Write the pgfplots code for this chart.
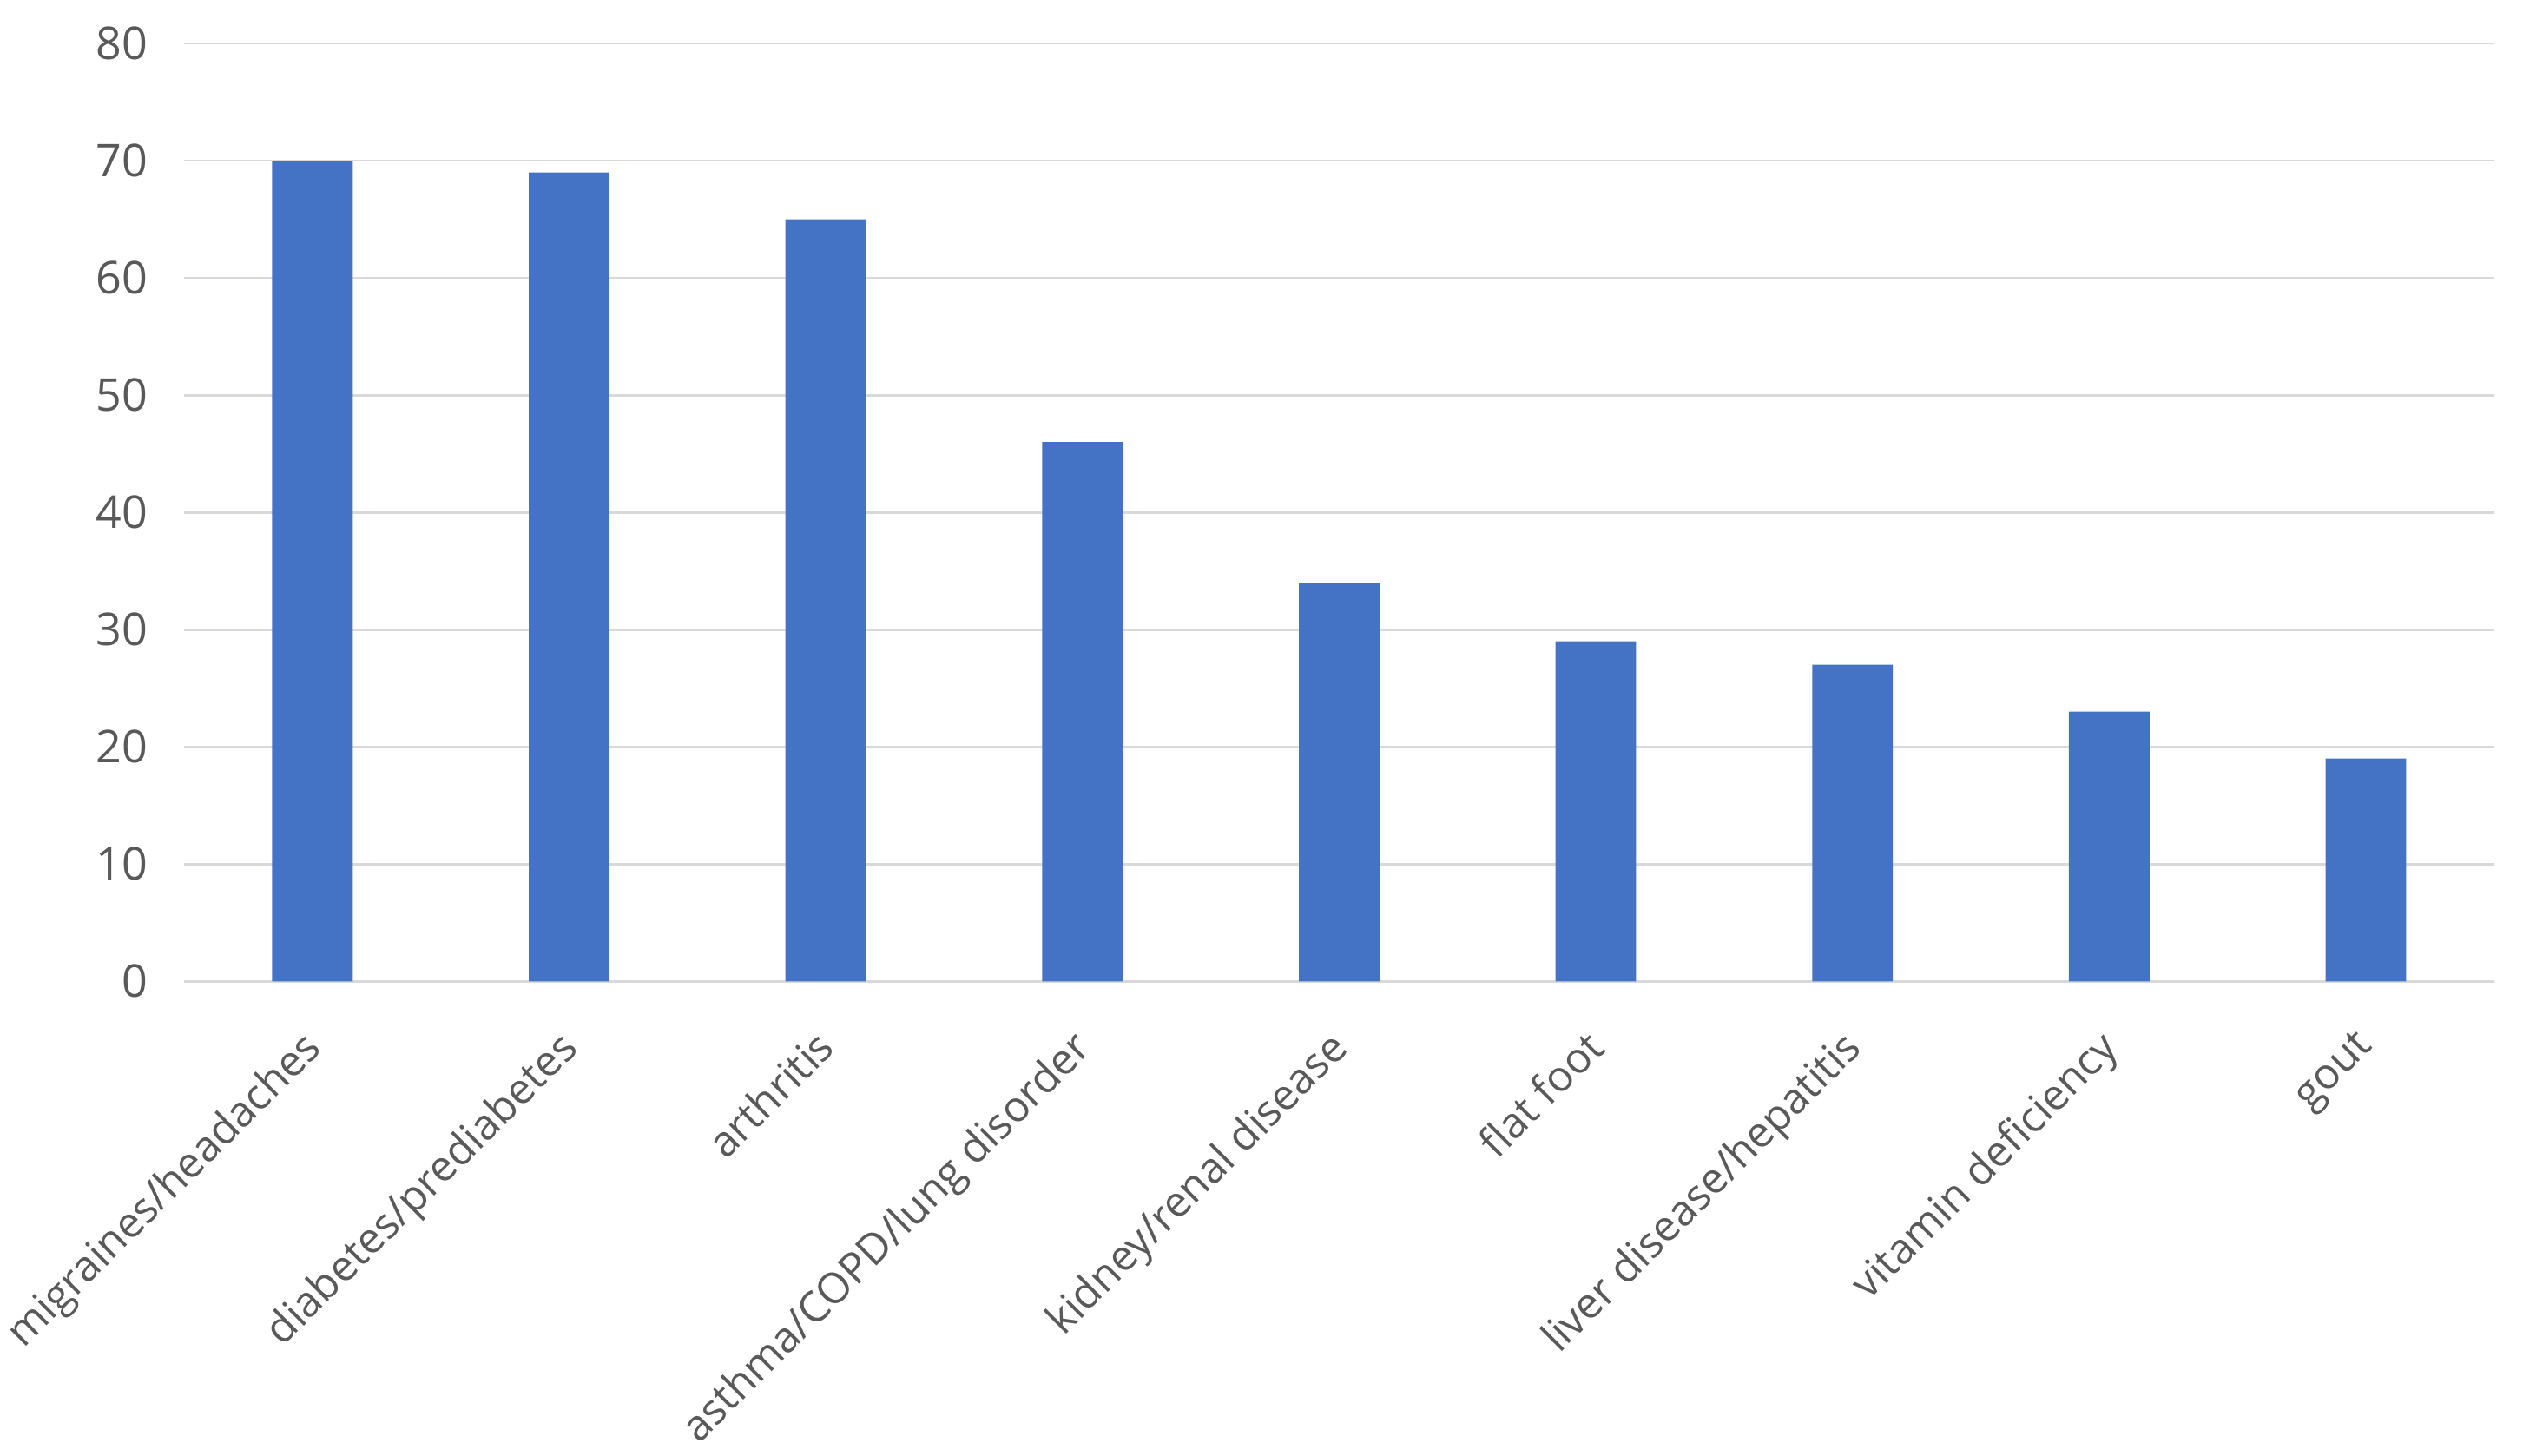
\documentclass[border=0pt]{standalone}
\usepackage{pgfplots}
\pgfplotsset{compat=1.18}
\usepackage{fontspec}
\setmainfont{Open Sans}
\definecolor{barblue}{HTML}{4472C4}
\definecolor{gridgray}{HTML}{D9D9D9}
\definecolor{labelgray}{HTML}{595959}

\begin{document}
\begin{tikzpicture}
\begin{axis}[
    scale only axis,
    width=665pt, height=270pt,
    ybar, bar width=23.2pt,
    xmin=-0.5, xmax=8.5,
    ymin=0, ymax=80,
    ytick={0,10,...,80},
    xtick=data,
    xticklabels={migraines/headaches, diabetes/prediabetes, arthritis,
        asthma/COPD/lung disorder, kidney/renal disease, flat foot,
        liver disease/hepatitis, vitamin deficiency, gout},
    axis line style={draw=none},
    major tick length=0pt,
    ymajorgrids, grid style={gridgray, line width=0.7pt},
    extra y ticks={0}, extra y tick labels={},
    extra y tick style={grid style={gridgray, line width=0.9pt}},
    /pgf/number format/assume math mode=true,
    yticklabel style={font=\fontsize{13}{15}\selectfont, text=labelgray, xshift=-7pt},
    xticklabel style={font=\fontsize{12.2}{14}\selectfont, text=labelgray,
        xshift=-3.5pt, yshift=-13pt, rotate=45, anchor=north east, inner sep=0pt},
]
\addplot[fill=barblue, draw=none] coordinates {
    (0,70) (1,69) (2,65) (3,46) (4,34) (5,29) (6,27) (7,23) (8,19)
};
\end{axis}
\path (current axis.south west) ++(-53pt,-136.5pt) rectangle ++(0pt,0pt);
\path (current axis.north east) ++(8.3pt,12.5pt) rectangle ++(0pt,0pt);
\end{tikzpicture}
\end{document}
